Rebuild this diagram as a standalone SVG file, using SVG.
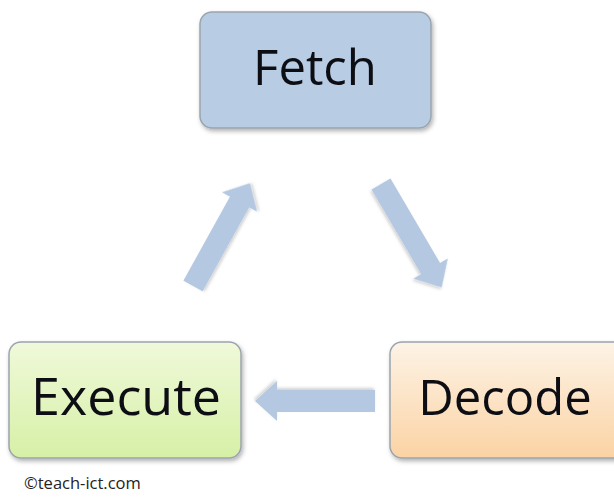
<svg xmlns="http://www.w3.org/2000/svg" xmlns:xlink="http://www.w3.org/1999/xlink" width="614" height="498" viewBox="0 0 614 498">
<style>
.box{stroke:#9aa4ae;stroke-width:1.5;filter:url(#sh)}
.lbl{font-family:"Open Sans","Noto Sans",sans-serif;font-size:49px;fill:#0d0d14;text-anchor:middle}
.arr{fill:#b4c8e2;filter:url(#ash)}
.copy{font-family:"Open Sans","Noto Sans",sans-serif;font-size:16.5px;fill:#222}
</style>
<defs>
<filter id="sh" x="-10%" y="-10%" width="125%" height="130%">
<feDropShadow dx="1.5" dy="2.5" stdDeviation="2" flood-color="#000" flood-opacity="0.3"/>
</filter>
<filter id="ash" x="-20%" y="-30%" width="140%" height="160%">
<feDropShadow dx="1" dy="2" stdDeviation="1.5" flood-color="#000" flood-opacity="0.18"/>
</filter>
<linearGradient id="gG" x1="0" y1="0" x2="0" y2="1">
<stop offset="0" stop-color="#f0f9da"/>
<stop offset="1" stop-color="#d6f0a6"/>
</linearGradient>
<linearGradient id="gO" x1="0" y1="0" x2="0" y2="1">
<stop offset="0" stop-color="#fdf3e6"/>
<stop offset="1" stop-color="#fbd3a4"/>
</linearGradient>
<path id="arrow" d="M0,-11 H98 V-20 L120,0 L98,20 V11 H0 Z"/>
</defs>
<rect width="614" height="498" fill="#fff"/>
<g id="connectors">
<use xlink:href="#arrow" class="arr" transform="translate(193,286) rotate(-61) scale(0.98,1)"/>
<use xlink:href="#arrow" class="arr" transform="translate(381,184) rotate(59.6)"/>
<use xlink:href="#arrow" class="arr" transform="translate(375,401) rotate(180)"/>
</g>
<g id="fetch">
<rect class="box" x="200" y="12" width="231" height="116" rx="12" fill="#b8cce4" stroke="#8ea0b6"/>
<text class="lbl" x="315" y="85">Fetch</text>
</g>
<g id="execute">
<rect class="box" x="9" y="342" width="232" height="116" rx="12" fill="url(#gG)"/>
<text class="lbl" x="126" y="415" style="font-size:52px">Execute</text>
</g>
<g id="decode">
<rect class="box" x="390" y="342" width="240" height="116" rx="12" fill="url(#gO)"/>
<text class="lbl" x="505" y="415">Decode</text>
</g>
<text class="copy" x="24" y="489">©teach-ict.com</text>
</svg>
